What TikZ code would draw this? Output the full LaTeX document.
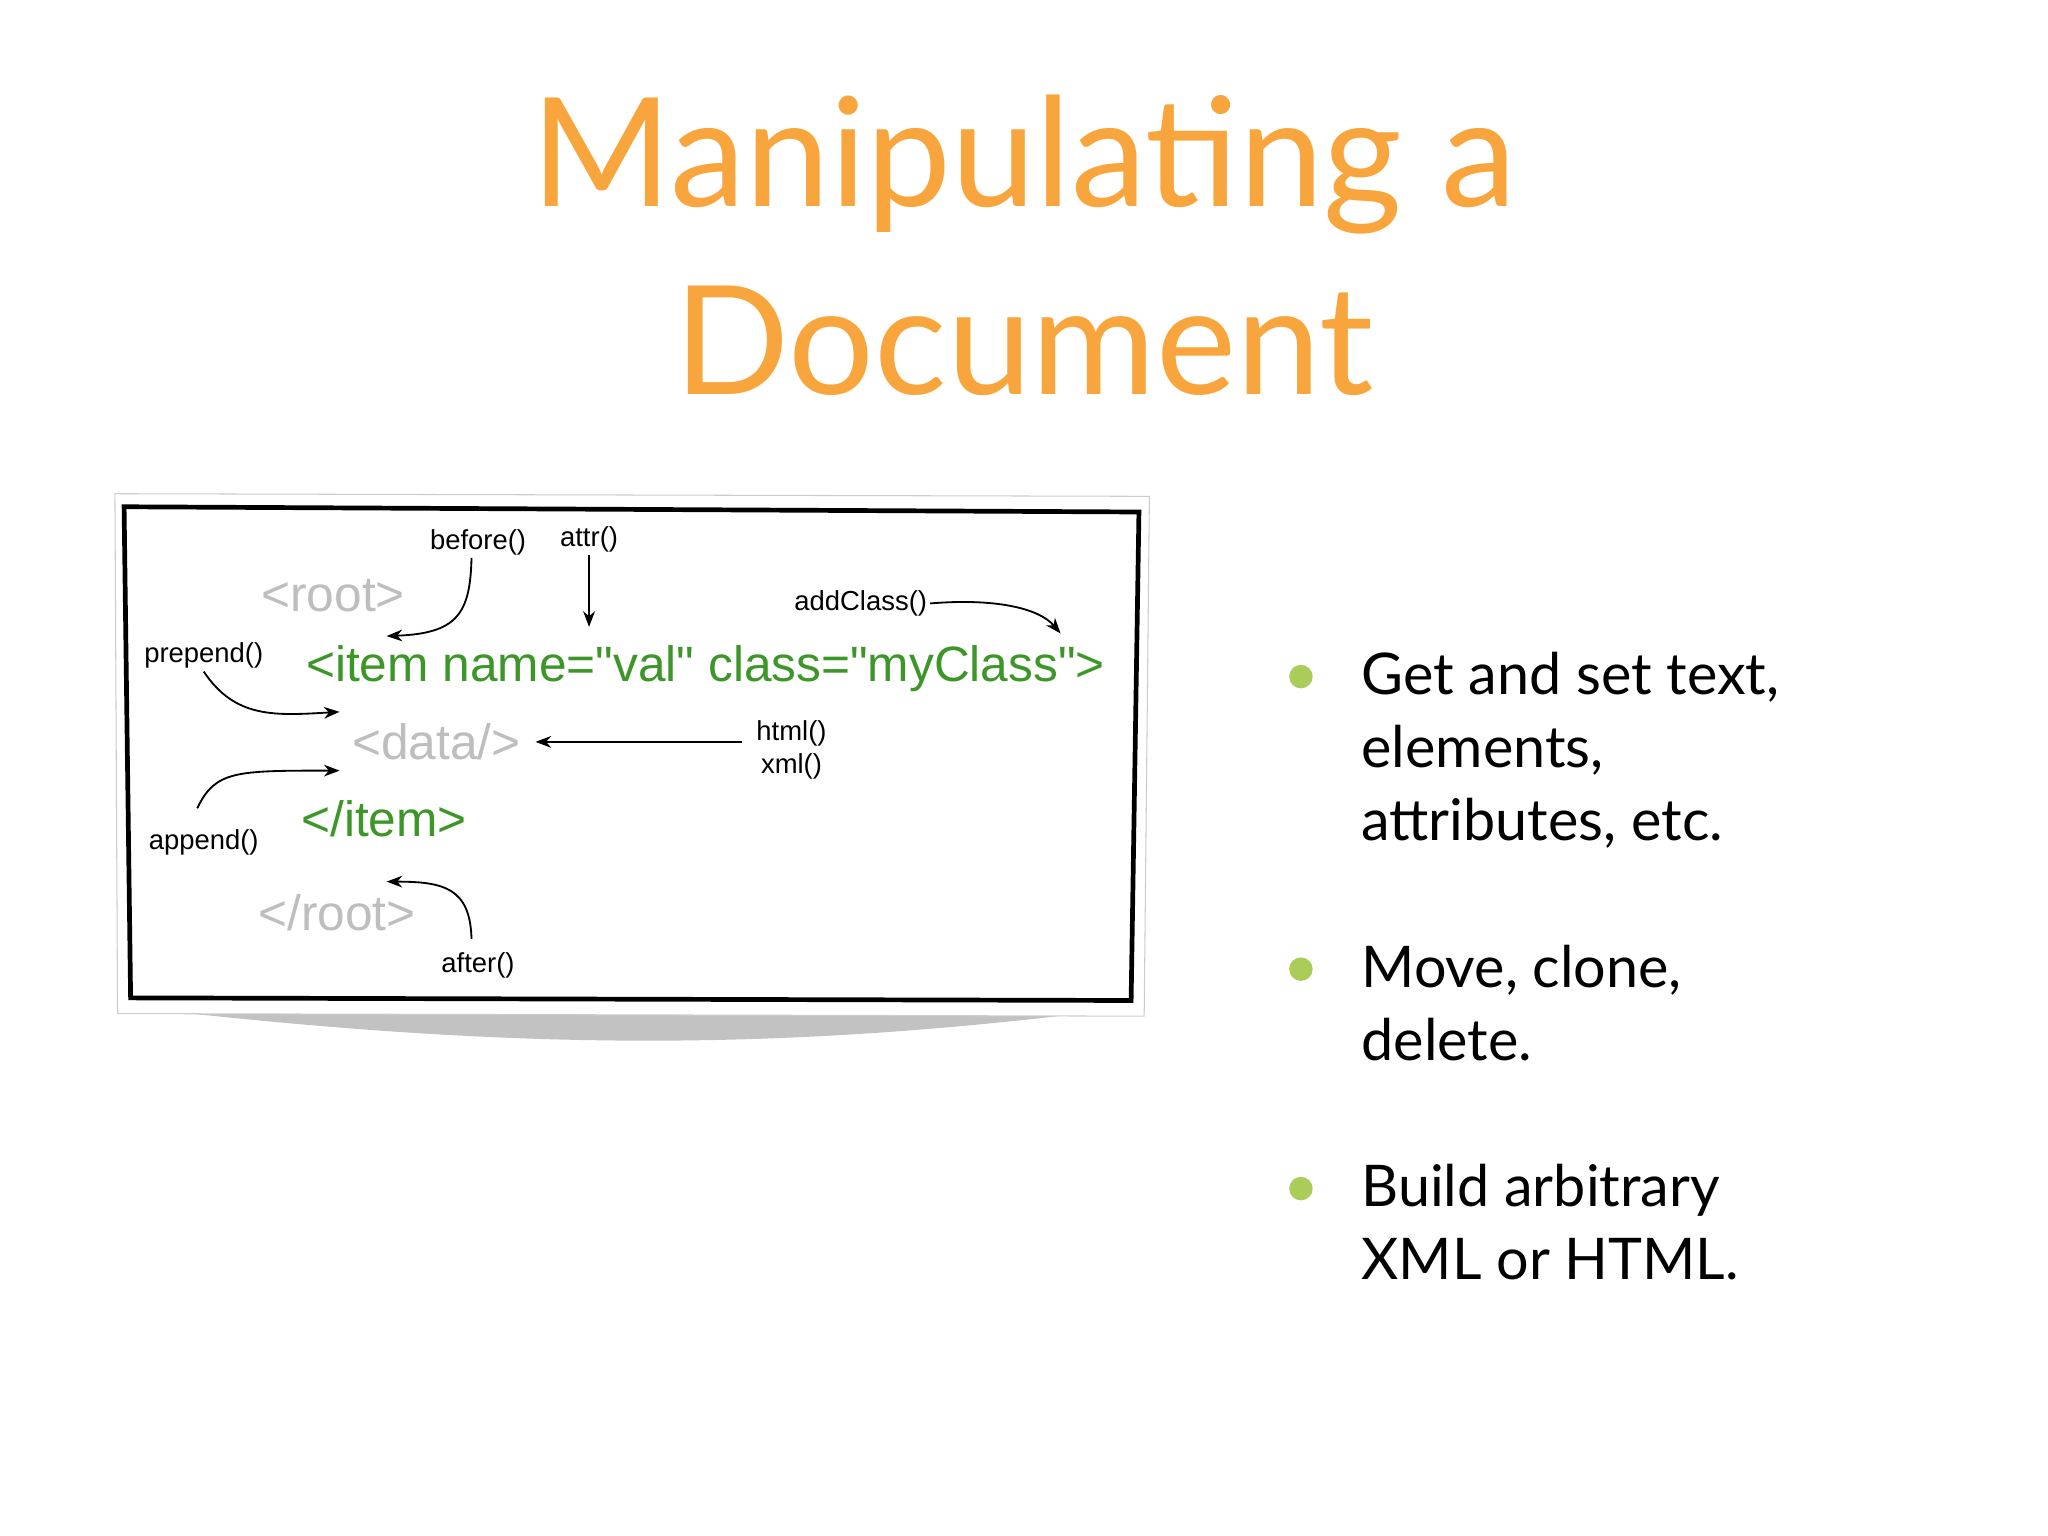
\documentclass[tikz,border=0pt]{standalone}
\usepackage{fontspec}
\setmainfont{Lato}
\newfontfamily\hv{Liberation Sans}
\usetikzlibrary{arrows.meta}
\definecolor{ttl}{RGB}{247,165,60}
\definecolor{bul}{RGB}{170,205,90}
\definecolor{grn}{RGB}{60,150,40}
\definecolor{gry}{RGB}{190,190,190}
\begin{document}
\begin{tikzpicture}[x=0.5pt,y=-0.5pt,
  lbl/.style={font=\hv\fontsize{10.5}{12.5}\selectfont,inner sep=1pt},
  arr/.style={-{Stealth[length=6pt]},line width=0.7pt},
  bt/.style={font=\fontsize{22}{28}\selectfont,anchor=north west,align=left,inner sep=0pt},
  code/.style={font=\hv\fontsize{19}{22}\selectfont,inner sep=1pt}]
\useasboundingbox (0,0) rectangle (1568,1176);
\node[font=\fontsize{58}{72}\selectfont,text=ttl,align=center] (title) at (784,188) {Manipulating a\\Document};
% shadow and frame
\fill[gray!80,opacity=0.6] (110,772) .. controls (400,805) and (600,805) .. (860,772) -- cycle;
\draw[gray!40,fill=white] (88,378) -- (880,380) -- (876,778) -- (90,776) -- cycle;
\draw[line width=1.8pt] (95,388) -- (872,392) -- (866,766) -- (100,764) -- cycle;
% code
\node[code,text=gry] (root) at (255,456) {<root>};
\node[code,text=grn,anchor=west] (item) at (232,512) {<item name="val" class="myClass">};
\node[code,text=gry] (data) at (334,568) {<data/>};
\node[code,text=grn] (citem) at (294,627) {</item>};
\node[code,text=gry] (croot) at (258,699) {</root>};
% labels
\node[lbl] (before) at (366,415) {before()};
\node[lbl] (attr) at (451,413) {attr()};
\node[lbl] (addc) at (659,462) {addClass()};
\node[lbl] (prep) at (156,502) {prepend()};
\node[lbl,align=center] (html) at (606,574) {html()\\xml()};
\node[lbl] (app) at (156,645) {append()};
\node[lbl] (after) at (366,739) {after()};
\coordinate (c1) at (296,487);
\coordinate (c2) at (451,480);
\coordinate (c3) at (812,485);
\coordinate (c4) at (260,545);
\coordinate (c5) at (410,568);
\coordinate (c6) at (260,590);
\coordinate (c7) at (296,675);
\draw[arr] (before.south) ++(-5,0) .. controls (360,470) and (350,485) .. (c1);
\draw[arr] (attr.south) -- (c2);
\draw[arr] (addc.east) .. controls (760,458) and (795,465) .. (c3);
\draw[arr] (prep.south) .. controls (180,550) and (210,548) .. (c4);
\draw[arr] (568,568) -- (c5);
\draw[arr] (app.north) ++(-5,-14) .. controls (165,590) and (180,590) .. (c6);
\draw[arr] (after.north) ++(-5,-8) .. controls (360,680) and (340,675) .. (c7);
% bullets
\foreach \y/\n in {518/b1,742/b2,910/b3}{\fill[bul] (996,\y) circle (9) coordinate (\n);}
\node[bt] (t1) at (1042,499) {Get and set text,\\elements,\\attributes, etc.};
\node[bt] (t2) at (1042,723) {Move, clone,\\delete.};
\node[bt] (t3) at (1042,891) {Build arbitrary\\XML or HTML.};
\end{tikzpicture}
\end{document}
